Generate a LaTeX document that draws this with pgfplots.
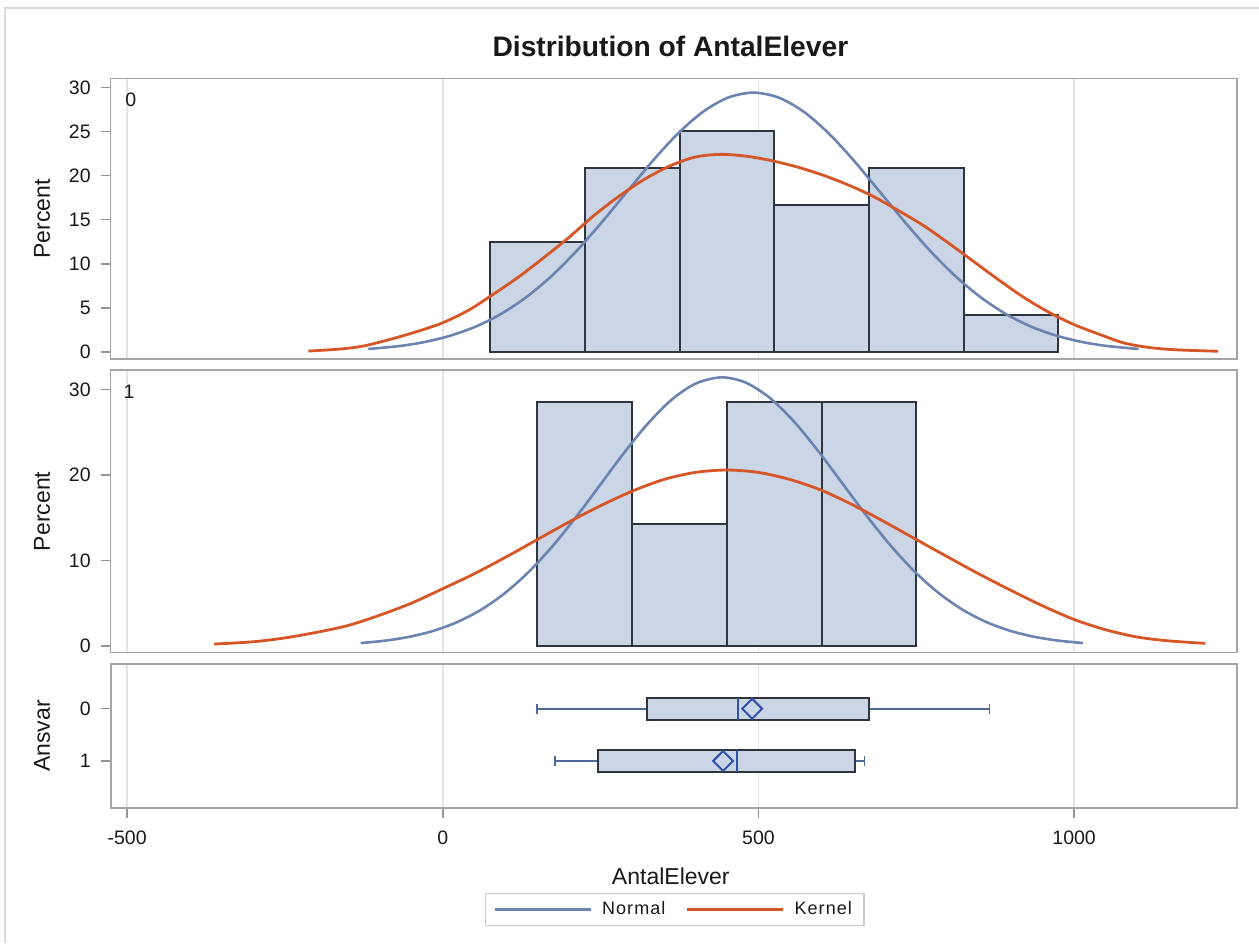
\documentclass[border=0pt]{standalone}
\usepackage{pgfplots}
\pgfplotsset{compat=1.18}
\usepgfplotslibrary{statistics}
\usepackage{fontspec}
\setmainfont{Liberation Sans}

\definecolor{barfill}{RGB}{202,213,229}
\definecolor{baredge}{RGB}{48,52,60}
\definecolor{normalcol}{RGB}{108,132,175}
\definecolor{kernelcol}{RGB}{214,86,40}
\definecolor{framecol}{RGB}{165,165,165}
\definecolor{gridcol}{RGB}{228,228,228}
\definecolor{tickcol}{RGB}{150,150,150}
\definecolor{whiskcol}{RGB}{78,104,152}
\definecolor{medcol}{RGB}{48,82,168}
\definecolor{outercol}{RGB}{218,218,218}
\definecolor{txtcol}{RGB}{25,25,25}

\newcommand{\ticksize}{\fontsize{9.75}{11}\selectfont}
\newcommand{\labsize}{\fontsize{11.5}{13}\selectfont}
\newcommand{\legsize}{\fontsize{9}{10}\selectfont\addfontfeatures{LetterSpace=6}}

\pgfplotsset{
  panel/.style={
    scale only axis, width=563.15pt,
    xmin=-526, xmax=1258,
    anchor=south west,
    axis line style={draw=framecol, line width=0.8pt},
    xtick={-500,0,500,1000},
    xmajorgrids, major grid style={draw=gridcol, line width=0.8pt},
    tick align=outside, major tick length=5pt,
    ytick pos=left, xtick pos=bottom,
    tick style={draw=tickcol, line width=0.8pt},
    tick label style={font=\ticksize, text=txtcol},
    /pgf/number format/assume math mode=true,
    /pgf/number format/1000 sep={},
    yticklabel style={xshift=-1.5pt},
  },
  upper/.style={panel, xticklabels={}, xtick style={draw=none}},
  hist/.style={ybar interval, fill=barfill, draw=baredge, line width=1pt},
  normalfit/.style={normalcol, line width=1.3pt, smooth},
  kernelfit/.style={kernelcol, line width=1.4pt, smooth},
}

\begin{document}
\begin{tikzpicture}
\useasboundingbox (0pt,0pt) rectangle (629.5pt,471.5pt);
\draw[outercol, line width=1pt] (2.5pt,0pt) -- (2.5pt,467.5pt) -- (629.5pt,467.5pt);

\node[anchor=base, font=\fontsize{14.1}{16}\selectfont\bfseries, text=txtcol]
  at (335.2pt,443.15pt) {Distribution of AntalElever};

% ---- Ansvar = 0 ----
\begin{axis}[upper, at={(55.35pt,291.85pt)}, height=140.3pt,
  ymin=-0.83, ymax=30.98, ytick={0,5,10,15,20,25,30}]
\addplot[hist] coordinates {(75,12.5) (225,20.833) (375,25) (525,16.667)
  (675,20.833) (825,4.167) (975,0)};
\addplot[normalfit] coordinates {
  (-118,0.337) (-68,0.679) (-28,1.14) (12,1.85) (52,2.87) (92,4.30)
  (132,6.20) (172,8.59) (212,11.46) (252,14.72) (292,18.18) (332,21.62)
  (372,24.73) (412,27.22) (452,28.84) (492,29.4) (532,28.84) (572,27.22)
  (612,24.73) (652,21.62) (692,18.18) (732,14.72) (772,11.46) (812,8.59)
  (852,6.20) (892,4.30) (932,2.87) (972,1.85) (1012,1.14) (1052,0.679)
  (1102,0.337)};
\addplot[kernelfit] coordinates {
  (-213,0.1) (-160,0.35) (-120,0.76) (-60,1.9) (-4,3.2) (40,4.7) (76,6.35)
  (120,8.5) (160,10.7) (200,13.0) (240,15.5) (280,17.7) (320,19.6)
  (360,21.1) (400,22.1) (440,22.4) (480,22.2) (520,21.7) (560,21.0)
  (600,20.1) (640,19.0) (680,17.7) (720,16.1) (760,14.4) (800,12.4)
  (840,10.3) (880,8.2) (920,6.2) (960,4.5) (1000,3.1) (1040,2.0)
  (1080,1.0) (1120,0.5) (1160,0.25) (1228,0.08)};
\node[font=\ticksize, text=txtcol] at (rel axis cs:0.0178,0.924) {0};
\end{axis}

% ---- Ansvar = 1 ----
\begin{axis}[upper, at={(55.35pt,145.15pt)}, height=141.35pt,
  ymin=-0.78, ymax=32.26, ytick={0,10,20,30}]
\addplot[hist] coordinates {(150,28.571) (300,14.286) (450,28.571)
  (600,28.571) (750,0)};
\addplot[normalfit] coordinates {
  (-130,0.348) (-92,0.620) (-54,1.063) (-16,1.749) (22,2.770) (60,4.214)
  (98,6.160) (136,8.654) (174,11.68) (212,15.16) (250,18.91) (288,22.66)
  (326,26.09) (364,28.88) (402,30.72) (442,31.4) (480,30.78) (518,29.00)
  (556,26.26) (594,22.85) (632,19.10) (670,15.35) (708,11.86) (746,8.80)
  (784,6.28) (822,4.30) (860,2.835) (898,1.795) (936,1.092) (974,0.638)
  (1014,0.348)};
\addplot[kernelfit] coordinates {
  (-362,0.23) (-300,0.5) (-250,0.95) (-200,1.6) (-150,2.4) (-100,3.6)
  (-50,5.0) (0,6.7) (50,8.45) (100,10.4) (150,12.45) (200,14.5)
  (250,16.4) (300,18.1) (350,19.46) (400,20.29) (450,20.57) (500,20.29)
  (550,19.46) (600,18.2) (650,16.47) (700,14.5) (750,12.45) (800,10.4)
  (850,8.4) (900,6.5) (950,4.7) (1000,3.1) (1050,1.9) (1100,1.05)
  (1150,0.6) (1208,0.31)};
\node[font=\ticksize, text=txtcol] at (rel axis cs:0.0162,0.923) {1};
\end{axis}

% ---- box plots ----
\begin{axis}[panel, at={(55.35pt,67.5pt)}, height=72pt,
  y dir=reverse, ymin=-0.855, ymax=1.9, ytick={0,1},
  xticklabel style={yshift=-3pt},
  boxplot/draw direction=x,
  boxplot/every box/.style={fill=barfill, draw=baredge, line width=1pt},
  boxplot/every whisker/.style={draw=whiskcol, line width=0.9pt},
  boxplot/every median/.style={draw=medcol, line width=1pt},
  legend style={at={(0.5006,-0.704)}, anchor=center, draw=framecol!60,
    line width=0.6pt, legend columns=2, font=\legsize, text=txtcol,
    inner xsep=4pt, inner ysep=2pt,
    /tikz/every odd column/.append style={column sep=3pt},
    /tikz/every even column/.append style={column sep=8pt}},
  legend image code/.code={\draw[#1] (0pt,0pt) -- (48pt,0pt);},
  legend cell align=left]
\addlegendimage{normalcol, line width=1.5pt}
\addlegendentry{Normal}
\addlegendimage{kernelcol, line width=1.5pt}
\addlegendentry{Kernel}
\addplot[forget plot, boxplot prepared={lower whisker=149, lower quartile=324,
  median=467, upper quartile=675, upper whisker=866, draw position=0,
  box extend=0.415, whisker extend=0.19}] coordinates {};
\addplot[forget plot, boxplot prepared={lower whisker=178, lower quartile=246,
  median=466, upper quartile=653, upper whisker=668, draw position=1,
  box extend=0.415, whisker extend=0.19}] coordinates {};
\addplot[forget plot, only marks, mark=square, mark size=3.5pt,
  mark options={rotate=45, draw=medcol, fill=none, line width=1pt}]
  coordinates {(490,0) (444,1)};
\end{axis}

\node[font=\labsize, text=txtcol] at (335.4pt,29pt) [anchor=base] {AntalElever};
\node[font=\labsize, text=txtcol, rotate=90] at (21pt,362pt) {Percent};
\node[font=\labsize, text=txtcol, rotate=90] at (21pt,215.8pt) {Percent};
\node[font=\labsize, text=txtcol, rotate=90] at (21pt,103.5pt) {Ansvar};
\end{tikzpicture}
\end{document}
